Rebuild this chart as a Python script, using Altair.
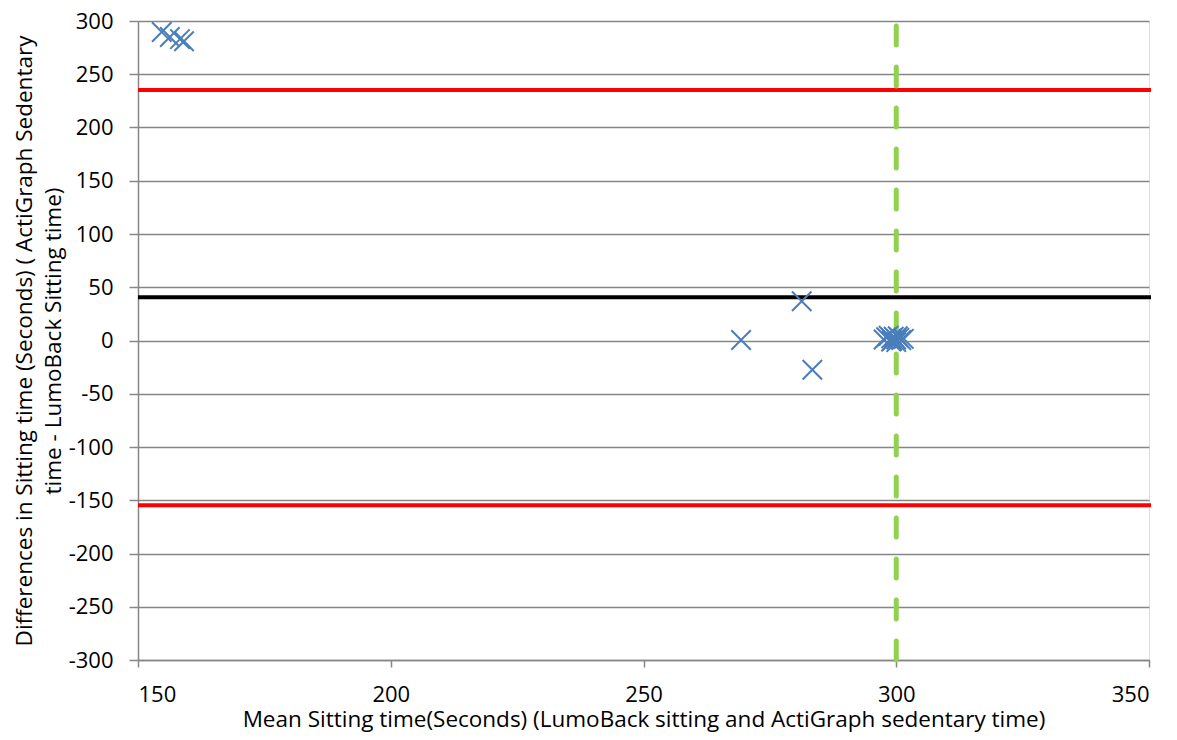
import altair as alt
import pandas as pd

mean_x = [154.7, 156.3, 158.3, 159.1, 269.3, 281.3, 283.4,
          297.5, 298.0, 298.5, 299.0, 299.2, 299.5, 300.0, 300.3, 300.6, 301.0, 301.5, 299.0, 300.0]
diff_y = [289.7, 285.0, 283.0, 281.0, 0.5, 36.8, -27.5,
          1.0, 3.0, 4.5, 2.0, 0.0, 3.5, 1.0, 4.0, 2.5, 0.5, 1.5, -1.0, -1.5]

mean_diff = [40.6]
loa = [235.3, -154.7]
vline_x = [300]
vline_y = [-300, 300]

pts = pd.DataFrame({"x": mean_x, "y": diff_y})
hm = pd.DataFrame({"y": mean_diff})
hl = pd.DataFrame({"y": loa})
vl = pd.DataFrame({"x": vline_x * 2, "y": vline_y})

W, H = 1011, 639
font = "Open Sans"
LF, TF = 22, 22.5

xs = alt.Scale(domain=[150, 350], nice=False)
ys = alt.Scale(domain=[-300, 300], nice=False)

xaxis = alt.Axis(values=[150, 200, 250, 300, 350], grid=False, labelFontSize=LF,
                 titleFontSize=TF, titleFontWeight="normal", labelColor="#000000",
                 titleColor="#000000", domainColor="#868686", tickColor="#868686",
                 domainWidth=1.5, tickWidth=1.5,
                 tickSize=7, labelPadding=17, titlePadding=3, labelFont=font, titleFont=font,
                 labelExpr="toString(datum.value)")
yaxis = alt.Axis(values=list(range(-300, 301, 50)), grid=True, gridColor="#868686",
                 gridWidth=1.3, labelFontSize=LF, titleFontSize=TF, titleFontWeight="normal",
                 labelColor="#000000", titleColor="#000000", domainColor="#868686",
                 domainWidth=1.5, tickWidth=1.5,
                 tickColor="#868686", tickSize=9, labelPadding=16, titlePadding=3,
                 labelFont=font, titleFont=font, labelExpr="toString(datum.value)",
                 titleLineHeight=29)

base_pts = alt.Chart(pts).mark_point(
    shape="M-1,-1L1,1M-1,1L1,-1", filled=False, size=380, strokeWidth=2, color="#4a7ebb", opacity=1
).encode(
    x=alt.X("x:Q", scale=xs, axis=xaxis,
            title="Mean Sitting time(Seconds) (LumoBack sitting and ActiGraph sedentary time)"),
    y=alt.Y("y:Q", scale=ys, axis=yaxis,
            title=["Differences in Sitting time (Seconds) ( ActiGraph Sedentary",
                   "time - LumoBack Sitting time)"]),
)

mean_rule = alt.Chart(hm).mark_rule(color="#000000", strokeWidth=4).encode(
    y=alt.Y("y:Q", scale=ys), x=alt.value(0), x2=alt.value(W + 2))
loa_rule = alt.Chart(hl).mark_rule(color="#ff0000", strokeWidth=4).encode(
    y=alt.Y("y:Q", scale=ys), x=alt.value(0), x2=alt.value(W + 2))
vrule = alt.Chart(vl).mark_line(color="#92d050", strokeWidth=5, strokeDash=[19, 22],
                                strokeCap="round").encode(
    x=alt.X("x:Q", scale=xs), y=alt.Y("y:Q", scale=ys))

chart = alt.layer(loa_rule, mean_rule, vrule, base_pts).properties(
    width=W, height=H
).configure_view(stroke=None).configure(background="#ffffff", padding={"left": 5, "top": 2, "right": 0, "bottom": 3})

chart.save("out.html", embed_options={"renderer": "svg", "actions": False})
